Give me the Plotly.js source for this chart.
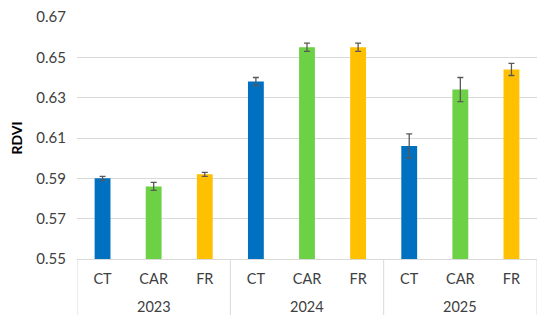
<!DOCTYPE html>
<html>
<head>
<meta charset="utf-8">
<script src="https://cdn.plot.ly/plotly-3.0.1.min.js"></script>
<style>html,body{margin:0;padding:0;background:#fff;}#chart{width:550px;height:327px;}</style>
</head>
<body>
<div id="chart"></div>
<script>
const years = ['2023', '2024', '2025'];
const treatments = ['CT', 'CAR', 'FR'];
const rdvi2023 = [0.590, 0.586, 0.592];
const rdvi2024 = [0.638, 0.655, 0.655];
const rdvi2025 = [0.606, 0.634, 0.644];
const err2023 = [0.001, 0.002, 0.001];
const err2024 = [0.002, 0.002, 0.002];
const err2025 = [0.006, 0.006, 0.003];
const treatmentColors = ['#0070C0', '#6CD144', '#FFC000'];

const valuesByYear = [rdvi2023, rdvi2024, rdvi2025];
const errByYear = [err2023, err2024, err2025];
const nT = treatments.length;
const xPos = [], tickText = [], yVals = [], eVals = [], cols = [];
years.forEach((yr, i) => {
  treatments.forEach((t, j) => {
    xPos.push(i * nT + j);
    tickText.push(t);
    yVals.push(valuesByYear[i][j]);
    eVals.push(errByYear[i][j]);
    cols.push(treatmentColors[j]);
  });
});

const font = "Lato, 'Open Sans', sans-serif";
const lineCol = '#D9D9D9';
const plotH = 327 - 17 - 68;
const divBottom = -56 / plotH;
const yearY = -47.5 / plotH;

const shapes = [];
for (let i = 0; i <= years.length; i++) {
  shapes.push({type: 'line', xref: 'x', yref: 'paper', x0: i * nT - 0.5, x1: i * nT - 0.5,
    y0: 0, y1: divBottom, line: {color: lineCol, width: 1}, layer: 'below'});
}
const annotations = years.map((yr, i) => ({
  text: yr, xref: 'x', yref: 'paper', x: i * nT + (nT - 1) / 2, y: yearY,
  xanchor: 'center', yanchor: 'middle', showarrow: false,
  font: {family: font, size: 14.5, color: '#404040'}
}));

const trace = {
  type: 'bar',
  x: xPos,
  y: yVals,
  width: 0.31,
  marker: {color: cols},
  error_y: {type: 'data', array: eVals, visible: true, color: '#595959', thickness: 1.3, width: 3},
  hoverinfo: 'none'
};
const layout = {
  width: 550, height: 327,
  margin: {l: 77, r: 13, t: 17, b: 68},
  paper_bgcolor: '#fff', plot_bgcolor: '#fff',
  showlegend: false,
  font: {family: font, size: 14, color: '#404040'},
  shapes: shapes,
  annotations: annotations,
  xaxis: {
    range: [-0.5, years.length * nT - 0.5],
    tickmode: 'array', tickvals: xPos, ticktext: tickText,
    showline: true, linecolor: lineCol, linewidth: 1,
    ticks: '', showgrid: false, zeroline: false,
    ticklabelstandoff: 7,
    tickfont: {family: font, size: 14.5, color: '#404040'}
  },
  yaxis: {
    range: [0.55, 0.67],
    dtick: 0.02, tick0: 0.55,
    tickformat: '.2f',
    showgrid: true, gridcolor: lineCol, gridwidth: 1,
    zeroline: false, showline: false, ticks: '',
    ticklabelstandoff: 10,
    tickfont: {family: font, size: 15, color: '#404040'},
    title: {text: '<b>RDVI</b>', font: {family: font, size: 14, color: '#000'}, standoff: 10}
  }
};
Plotly.newPlot('chart', [trace], layout, {staticPlot: true});
</script>
</body>
</html>
